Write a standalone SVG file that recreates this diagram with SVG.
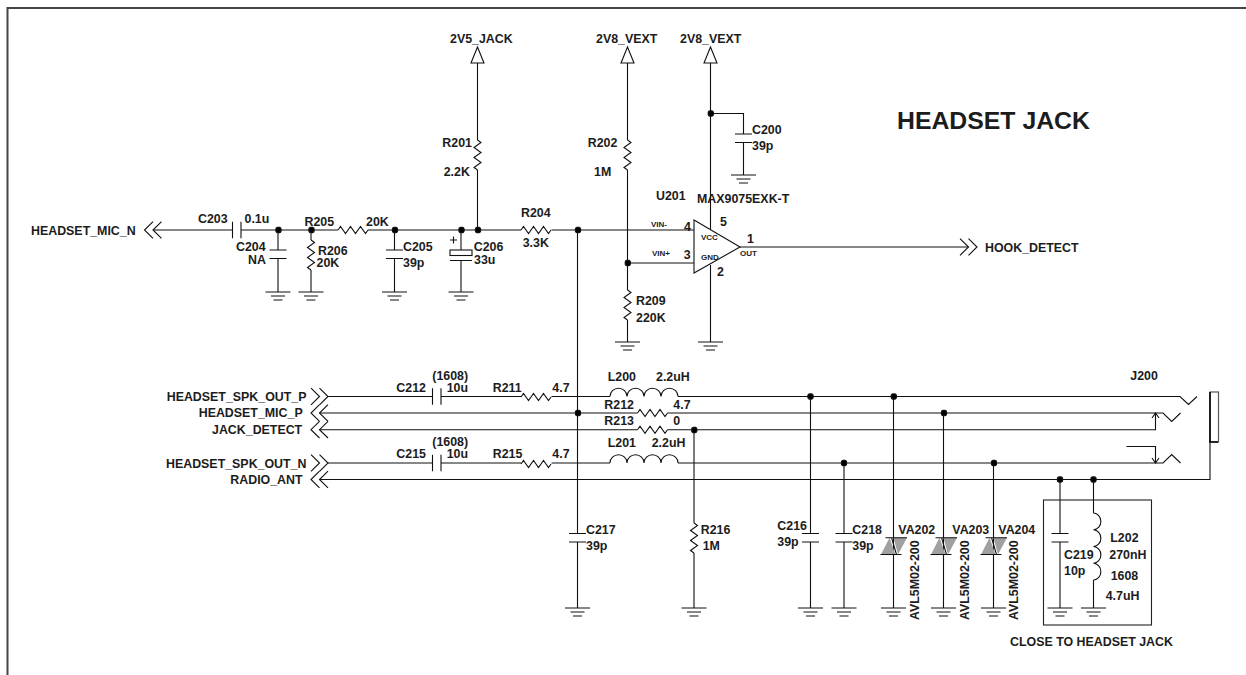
<svg xmlns="http://www.w3.org/2000/svg" width="1246" height="675" viewBox="0 0 1246 675">
<style>
text{font-family:"Liberation Sans",Arial,sans-serif;font-weight:700;font-size:12.4px;fill:#1c1c1c}
.s{font-size:8px}
.t{font-size:24.8px}
.w{fill:none;stroke:#111;stroke-width:1.1}
.c{fill:none;stroke:#111;stroke-width:1.1}
.f{fill:#fff;stroke:#111;stroke-width:1.1}
.j{fill:#000}
.v{fill:#a0a0a0;stroke:none}
</style>
<defs>
<g id="gnd" class="c"><path d="M-12.5 0H12.5M-7 4H7M-4.5 8H4.5"/></g>
<path id="rh" class="c" d="M0 0l2.5-3.5 5 7 5-7 5 7 5-7 5 7 2.5-3.5"/>
<path id="rv" class="c" d="M0 0l3.5 2.5-7 5 7 5-7 5 7 5-7 5 3.5 2.5"/>
<path id="cv" class="c" d="M-8.5 0H8.5M-8.5 8.5H8.5"/>
<path id="ch" class="c" d="M0-8.3V8.3M8.5-8.3V8.3"/>
<path id="sout" class="c" d="M-17-8.3L-8.5 0-17 8.3M-8.5-8.3L0 0-8.5 8.3"/>
<path id="sin" class="c" d="M8.5-8.3L0 0 8.5 8.3M17-8.3L8.5 0 17 8.3"/>
<path id="coil" class="c" d="M0 0a8.5 8.2 0 0 1 17 0a8.5 8.2 0 0 1 17 0a8.5 8.2 0 0 1 17 0a8.5 8.2 0 0 1 17 0"/>
<path id="pwr" class="f" d="M0-16L6.5 0H-6.5Z"/>
<rect id="dot" class="j" x="-2.6" y="-2.6" width="5.2" height="5.2" rx="1.6"/>
<g id="tvs">
<path class="v" d="M-12.5 16.8L-4 0 2 16.8Z"/>
<path class="v" d="M0 0H13.5L4.5 16.8Z"/>
<path class="c" d="M-8 0H13.5M-13 16.8H8M-2 0L3 16.8"/>
</g>
</defs>

<path d="M7.5 676V8H1246" fill="none" stroke="#444" stroke-width="2"/>
<text id="title" class="t" x="897" y="129">HEADSET JACK</text>

<g id="connectors" class="w">
<path d="M153 230H232.5M241 230H338M368 230H521M551.5 230H694"/>
<path d="M278 230V250M278 258.5V292"/>
<path d="M311 230V240M311 270V292"/>
<path d="M394.5 230V250M394.5 258.5V292"/>
<path d="M461 230V250M461 260V292"/>
<path d="M477.5 63V140M477.5 170V230"/>
<path d="M627.5 63V140M627.5 170V290M627.5 320V342M627.5 263H694"/>
<path d="M710.5 63V229M710.5 265V342"/>
<path d="M710.5 113.5H743.5V134M743.5 142.5V175"/>
<path d="M740 247H968.5"/>
<path d="M577.5 230V533.5M577.5 542V608"/>
<path d="M328 396.5H432.5M441 396.5H521M551.5 396.5H610M678 396.5H1180L1188.5 404.5 1197 396.5"/>
<path d="M319.5 413H637.5M667.5 413H1163L1171.7 421.5 1180.5 413"/>
<path d="M319.5 429.7H637.5M667.5 429.7H1155.5V413"/>
<path d="M1152 418L1155.5 413 1159 418"/>
<path d="M1126.5 446.5H1155.5V463"/>
<path d="M1152 458L1155.5 463 1159 458"/>
<path d="M328 463H432.5M441 463H521M551.5 463H610M678 463H1163L1171.7 454.5 1180.5 463"/>
<path d="M319.5 479.5H1210V442"/>
<path d="M694 430V523M694 553V608"/>
<path d="M810.5 396.5V533.5M810.5 542V608"/>
<path d="M844 463V533.5M844 542V608"/>
<path d="M893.5 396.5V608"/>
<path d="M943.5 413V608"/>
<path d="M993.5 463V608"/>
<path d="M1060 479.5V533.5M1060 542V608"/>
<path d="M1093.5 479.5V513M1093.5 580V608"/>
<use href="#dot" x="278.5" y="230"/><use href="#dot" x="311.5" y="230"/><use href="#dot" x="395" y="230"/>
<use href="#dot" x="461.5" y="230"/><use href="#dot" x="478" y="230"/><use href="#dot" x="578" y="230"/>
<use href="#dot" x="627.8" y="263"/><use href="#dot" x="710.8" y="113.5"/><use href="#dot" x="578" y="413"/>
<use href="#dot" x="694.3" y="430"/><use href="#dot" x="810.5" y="396.5"/><use href="#dot" x="893.8" y="396.5"/>
<use href="#dot" x="844" y="463"/><use href="#dot" x="944" y="413"/><use href="#dot" x="994" y="463"/>
<use href="#dot" x="1060" y="479.5"/><use href="#dot" x="1093.5" y="479.5"/>
</g>

<g id="HEADSET_MIC_N"><use href="#sin" x="144.5" y="230"/><text x="31" y="235">HEADSET_MIC_N</text></g>
<g id="HOOK_DETECT"><use href="#sout" x="977" y="247"/><text x="985" y="252">HOOK_DETECT</text></g>
<g id="HEADSET_SPK_OUT_P"><use href="#sout" x="328" y="396.5"/><text x="166.7" y="401">HEADSET_SPK_OUT_P</text></g>
<g id="HEADSET_MIC_P"><use href="#sin" x="311" y="413"/><text x="198.7" y="417.3">HEADSET_MIC_P</text></g>
<g id="JACK_DETECT"><use href="#sin" x="311" y="429.7"/><text x="212" y="434">JACK_DETECT</text></g>
<g id="HEADSET_SPK_OUT_N"><use href="#sout" x="328" y="463"/><text x="166" y="467.7">HEADSET_SPK_OUT_N</text></g>
<g id="RADIO_ANT"><use href="#sin" x="311" y="479.5"/><text x="230.3" y="484">RADIO_ANT</text></g>

<g id="PWR_2V5_JACK"><use href="#pwr" x="477.5" y="63"/><text x="450" y="43">2V5_JACK</text></g>
<g id="PWR_2V8_VEXT_1"><use href="#pwr" x="627.5" y="63"/><text x="596" y="43">2V8_VEXT</text></g>
<g id="PWR_2V8_VEXT_2"><use href="#pwr" x="710.5" y="63"/><text x="680" y="43">2V8_VEXT</text></g>

<g id="C203"><use href="#ch" x="232.5" y="230"/><text x="198" y="223">C203</text><text x="244.5" y="223">0.1u</text></g>
<g id="C204"><use href="#cv" x="278" y="250"/><use href="#gnd" x="278" y="292"/><text x="236" y="250.7">C204</text><text x="248" y="264">NA</text></g>
<g id="R205"><use href="#rh" x="338" y="230"/><text x="304.5" y="226">R205</text><text x="366" y="226">20K</text></g>
<g id="R206"><use href="#rv" x="311" y="240"/><use href="#gnd" x="311" y="292"/><text x="318" y="255">R206</text><text x="316.5" y="267">20K</text></g>
<g id="C205"><use href="#cv" x="394.5" y="250"/><use href="#gnd" x="394.5" y="292"/><text x="403" y="250.7">C205</text><text x="403" y="267">39p</text></g>
<g id="C206"><rect class="f" x="450" y="250" width="22" height="5.5"/><path class="c" d="M450 260.5H472M450 240H457M453.5 236.5V243.5"/><use href="#gnd" x="461" y="292"/><text x="473.7" y="250.7">C206</text><text x="474" y="264">33u</text></g>
<g id="R201"><use href="#rv" x="477.5" y="140"/><text x="442.3" y="147">R201</text><text x="443.7" y="176">2.2K</text></g>
<g id="R202"><use href="#rv" x="627.5" y="140"/><text x="587.7" y="147">R202</text><text x="594" y="176">1M</text></g>
<g id="R204"><use href="#rh" x="521" y="230"/><text x="521" y="217">R204</text><text x="522.7" y="247">3.3K</text></g>
<g id="R209"><use href="#rv" x="627.5" y="290"/><use href="#gnd" x="627.5" y="342"/><text x="636" y="305">R209</text><text x="636" y="322">220K</text></g>
<g id="C200"><use href="#cv" x="743.5" y="134"/><use href="#gnd" x="743.5" y="175"/><text x="752" y="134">C200</text><text x="752" y="150">39p</text></g>
<g id="U201">
<path class="c" d="M694 220L740 247 694 273Z"/>
<use href="#gnd" x="710.5" y="342"/>
<text x="656" y="200">U201</text><text x="697" y="203">MAX9075EXK-T</text>
<text class="s" x="651" y="226.7">VIN-</text><text class="s" x="652" y="256">VIN+</text>
<text class="s" x="701" y="240">VCC</text><text class="s" x="701" y="260">GND</text><text class="s" x="740" y="256">OUT</text>
<text x="684" y="230.7">4</text><text x="683.7" y="259.3">3</text><text x="720" y="226">5</text><text x="747" y="243">1</text><text x="717" y="276">2</text>
</g>

<g id="C212"><use href="#ch" x="432.5" y="396.5"/><text x="396.3" y="391.7">C212</text><text x="432.3" y="380">(1608)</text><text x="446.7" y="391.7">10u</text></g>
<g id="R211"><use href="#rh" x="521" y="397"/><text x="492.7" y="391.7">R211</text><text x="552.3" y="391.7">4.7</text></g>
<g id="C215"><use href="#ch" x="432.5" y="463"/><text x="396.3" y="458.3">C215</text><text x="432.3" y="445.7">(1608)</text><text x="446.7" y="458.3">10u</text></g>
<g id="R215"><use href="#rh" x="521" y="464"/><text x="492.7" y="458.3">R215</text><text x="552.3" y="458.3">4.7</text></g>
<g id="L200"><use href="#coil" x="610" y="396.5"/><text x="607.7" y="381">L200</text><text x="656" y="381">2.2uH</text></g>
<g id="R212"><use href="#rh" x="637.5" y="413"/><text x="604.3" y="409">R212</text><text x="673.3" y="409">4.7</text></g>
<g id="R213"><use href="#rh" x="637.5" y="429.7"/><text x="604.3" y="425">R213</text><text x="673.3" y="425">0</text></g>
<g id="L201"><use href="#coil" x="610" y="463"/><text x="607.7" y="447">L201</text><text x="651.7" y="447">2.2uH</text></g>
<g id="C217"><use href="#cv" x="577.5" y="533.5"/><use href="#gnd" x="577.5" y="608"/><text x="586" y="534">C217</text><text x="586" y="550">39p</text></g>
<g id="R216"><use href="#rv" x="694" y="523"/><use href="#gnd" x="694" y="608"/><text x="700.7" y="534">R216</text><text x="702.7" y="550">1M</text></g>
<g id="C216"><use href="#cv" x="810.5" y="533.5"/><use href="#gnd" x="810.5" y="608"/><text x="777.3" y="530">C216</text><text x="777.3" y="546">39p</text></g>
<g id="C218"><use href="#cv" x="844" y="533.5"/><use href="#gnd" x="844" y="608"/><text x="852.3" y="534">C218</text><text x="852.3" y="550">39p</text></g>
<g id="VA202"><use href="#tvs" x="893.5" y="537.7"/><use href="#gnd" x="893.5" y="608"/><text x="898.3" y="534">VA202</text><text transform="translate(919.3 620) rotate(-90)">AVL5M02-200</text></g>
<g id="VA203"><use href="#tvs" x="943.5" y="537.7"/><use href="#gnd" x="943.5" y="608"/><text x="952.3" y="534">VA203</text><text transform="translate(969 620) rotate(-90)">AVL5M02-200</text></g>
<g id="VA204"><use href="#tvs" x="993.5" y="537.7"/><use href="#gnd" x="993.5" y="608"/><text x="998.3" y="534">VA204</text><text transform="translate(1018.3 620) rotate(-90)">AVL5M02-200</text></g>
<g id="J200">
<rect x="1210" y="392" width="8.5" height="50" fill="none" stroke="#555" stroke-width="1.2"/>
<path d="M1210 392V442H1218" fill="none" stroke="#000" stroke-width="1.6"/>
<text x="1130.3" y="380">J200</text>
</g>
<g id="CLOSE_BOX">
<rect x="1043.5" y="500" width="108" height="125" fill="none" stroke="#222" stroke-width="1.1"/>
<text x="1010" y="645.7">CLOSE TO HEADSET JACK</text>
</g>
<g id="C219"><use href="#cv" x="1060" y="533.5"/><use href="#gnd" x="1060" y="608"/><text x="1064" y="559">C219</text><text x="1064" y="575">10p</text></g>
<g id="L202"><path class="c" d="M1093.5 513a8 8.4 0 0 1 0 16.75a8 8.4 0 0 1 0 16.75a8 8.4 0 0 1 0 16.75a8 8.4 0 0 1 0 16.75"/><use href="#gnd" x="1093.5" y="608"/><text x="1110.3" y="541.7">L202</text><text x="1109.3" y="559">270nH</text><text x="1110.7" y="580">1608</text><text x="1105.7" y="600">4.7uH</text></g>
</svg>
